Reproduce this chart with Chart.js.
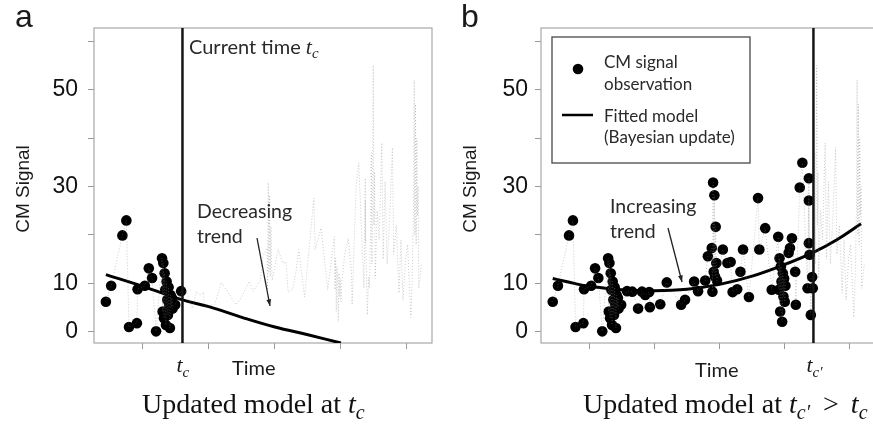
<!DOCTYPE html>
<html>
<head>
<meta charset="utf-8">
<script src="https://cdn.jsdelivr.net/npm/chart.js@4.4.0/dist/chart.umd.min.js"></script>
<style>
  html, body { margin: 0; padding: 0; background: #fff; overflow: hidden; }
  #wrap { position: relative; width: 873px; height: 426px; overflow: hidden; }
  canvas { position: absolute; top: 0; }
  #chartA { left: 0; }
  #chartB { left: 440px; }
</style>
</head>
<body>
<div id="wrap">
  <canvas id="chartA" width="440" height="426"></canvas>
  <canvas id="chartB" width="440" height="426"></canvas>
</div>
<script>
/* DATA */
// CM signal time series (observed up to t_c, the rest is what comes later)
const signalTime = [
  0.44, 0.52, 0.69, 0.75, 0.79, 0.91, 0.92, 1.03, 1.09, 1.14, 1.20,
  1.29, 1.30, 1.31, 1.32, 1.33, 1.34, 1.35, 1.36, 1.37, 1.38, 1.39, 1.40, 1.41, 1.42, 1.43, 1.44, 1.45,
  1.49, 1.58, 1.66, 1.75, 1.81, 1.86, 1.92, 1.93, 2.09, 2.19, 2.41, 2.47, 2.61, 2.67, 2.78, 2.82,
  2.88, 2.89, 2.90, 2.91, 2.92, 2.93, 2.94, 2.95, 2.96,
  3.05, 3.12, 3.17, 3.20, 3.27, 3.32, 3.36, 3.45, 3.59, 3.61, 3.70, 3.80,
  3.90, 3.91, 3.92, 3.93, 3.94, 3.95, 3.96, 3.97, 3.98, 3.99, 4.00, 4.01,
  4.06, 4.08, 4.11, 4.16, 4.17, 4.23, 4.27, 4.35, 4.37, 4.37, 4.37, 4.38, 4.40, 4.42, 4.43,
  4.45, 4.46, 4.47, 4.48, 4.49, 4.50, 4.51, 4.52, 4.55, 4.58, 4.62, 4.64, 4.67, 4.70, 4.74,
  4.78, 4.80, 4.84, 4.88, 4.91, 4.94, 4.98, 5.01, 5.03, 5.06, 5.08, 5.10, 5.11, 5.12, 5.13,
  5.14, 5.15, 5.16, 5.17, 5.18, 5.22
];
const signalValue = [
  6.2, 9.5, 19.9, 23.0, 1.0, 1.8, 8.8, 9.5, 13.1, 11.1, 0.1,
  15.2, 4.2, 14.2, 2.8, 12.1, 8.7, 1.4, 10.4, 6.6, 3.5, 9.2, 5.6, 0.8, 7.6, 5.0, 7.0, 4.8,
  5.6, 8.4, 8.3, 4.8, 8.3, 7.6, 8.2, 5.1, 5.7, 10.2, 5.6, 6.6, 10.4, 8.4, 10.6, 15.6,
  17.3, 8.3, 30.8, 12.4, 28.2, 11.4, 21.7, 14.2, 10.6,
  17.0, 14.2, 14.4, 8.2, 8.8, 12.4, 17.0, 7.2, 27.6, 17.0, 21.4, 8.7,
  19.6, 8.7, 15.2, 4.2, 13.5, 10.4, 2.1, 12.1, 7.3, 11.0, 6.2, 9.5,
  16.3, 17.3, 19.3, 12.4, 5.6, 29.8, 34.9, 9.0, 31.7, 18.3, 27.1, 15.9, 3.5, 11.3, 9.0,
  20, 37, 14, 30, 55, 22, 33, 11, 25, 19, 39, 15, 31, 14, 24,
  38, 16, 22, 8, 19, 6.6, 15, 18, 12, 3, 11, 25, 52, 20, 47,
  18, 40, 24, 30, 9, 14
];

// fitted model, panel a (at t_c) and panel b (at t_c')
const fitATime = [0.44, 1.0, 1.6, 2.0, 2.5, 3.0, 3.5, 4.0];
const fitAValue = [11.8, 9.4, 6.6, 5.2, 3.0, 1.0, -0.6, -2.3];
const fitBTime = [0.44, 0.8, 1.0, 1.5, 2.0, 2.5, 3.0, 3.5, 4.0, 4.44, 4.8, 5.17];
const fitBValue = [11.0, 9.9, 9.4, 8.7, 8.5, 8.8, 9.8, 11.5, 13.9, 16.4, 19.0, 22.3];

const tcA = 1.6;
const tcB = 4.44;

const yTickValues = [0, 10, 20, 30, 40, 50, 60];
const yTickLabels = ["0", "10", "", "30", "", "50", ""];
const xTickValues = [1, 2, 3, 4, 5];

const X_MIN = 0.26, X_MAX = 5.38;
const Y_MIN = -2.3, Y_MAX = 62.7;

/* HELPERS */
function pts(xs, ys, upTo) {
  return xs.map((x, i) => ({ x, y: ys[i] })).filter((p) => upTo == null || p.x <= upTo);
}

// draw a row of text pieces (used for the t_c subscripts)
function drawRuns(ctx, x, y, runs) {
  runs.forEach((r) => {
    ctx.font = r.font;
    ctx.fillText(r.text, x, y + (r.dy || 0));
    x += ctx.measureText(r.text).width + (r.gap || 0);
  });
  return x;
}

function drawArrow(ctx, x1, y1, x2, y2) {
  const a = Math.atan2(y2 - y1, x2 - x1);
  ctx.save();
  ctx.strokeStyle = "#222";
  ctx.fillStyle = "#222";
  ctx.lineWidth = 1.3;
  ctx.beginPath();
  ctx.moveTo(x1, y1);
  ctx.lineTo(x2, y2);
  ctx.stroke();
  ctx.beginPath();
  ctx.moveTo(x2, y2);
  ctx.lineTo(x2 - 7 * Math.cos(a - 0.35), y2 - 7 * Math.sin(a - 0.35));
  ctx.lineTo(x2 - 7 * Math.cos(a + 0.35), y2 - 7 * Math.sin(a + 0.35));
  ctx.closePath();
  ctx.fill();
  ctx.restore();
}

const SERIF = "'Liberation Serif', 'Times New Roman', serif";
const SANS = "'Liberation Sans', Arial, sans-serif";
const CAL = "Lato, 'Open Sans', sans-serif";

/* CHART BUILDER */
function makeChart(id, tc, fitT, fitV, yWidth, tickPad, decorate) {
  const frame = {
    id: "frame" + id,
    beforeDatasetsDraw(chart) {
      const { ctx, chartArea: a } = chart;
      ctx.save();
      ctx.strokeStyle = "#a8a8a8";
      ctx.lineWidth = 1.2;
      ctx.strokeRect(a.left, a.top, a.right - a.left, a.bottom - a.top);
      ctx.restore();
    },
    afterDatasetsDraw(chart) {
      const { ctx, chartArea: a } = chart;
      const px = chart.scales.x.getPixelForValue(tc);
      ctx.save();
      ctx.strokeStyle = "#151515";
      ctx.lineWidth = 2.5;
      ctx.beginPath();
      ctx.moveTo(px, a.top);
      ctx.lineTo(px, a.bottom);
      ctx.stroke();
      ctx.restore();
    },
    afterDraw(chart) {
      const ctx = chart.ctx;
      ctx.save();
      ctx.textBaseline = "alphabetic";
      ctx.fillStyle = "#1a1a1a";
      // y axis title
      ctx.save();
      ctx.translate(decorate.yTitleX, 189);
      ctx.rotate(-Math.PI / 2);
      ctx.textAlign = "center";
      ctx.font = "19px " + SANS;
      ctx.fillText("CM Signal", 0, 0);
      ctx.restore();
      decorate.draw(chart, ctx);
      ctx.restore();
    },
  };

  return new Chart(document.getElementById(id), {
    type: "scatter",
    data: {
      datasets: [
        {
          label: "signal path",
          data: pts(signalTime, signalValue),
          showLine: true,
          borderColor: "rgba(120,120,120,0.38)",
          borderWidth: 1,
          borderDash: [1, 2],
          pointRadius: 0,
        },
        {
          label: "CM signal observation",
          data: pts(signalTime, signalValue, tc),
          backgroundColor: "#000",
          borderColor: "#000",
          pointRadius: 5.3,
          borderWidth: 0,
          showLine: false,
        },
        {
          label: "Fitted model (Bayesian update)",
          data: pts(fitT, fitV),
          showLine: true,
          borderColor: "#000",
          borderWidth: 3,
          tension: 0.4,
          pointRadius: 0,
        },
      ],
    },
    options: {
      responsive: false,
      animation: false,
      devicePixelRatio: 1,
      layout: { padding: { left: 0, right: decorate.padRight, top: 28, bottom: 0 } },
      plugins: { legend: { display: false }, tooltip: { enabled: false } },
      scales: {
        x: {
          type: "linear",
          min: X_MIN,
          max: X_MAX,
          afterBuildTicks: (s) => { s.ticks = xTickValues.map((v) => ({ value: v })); },
          afterFit: (s) => { s.height = 83; },
          ticks: { callback: () => "", padding: 0 },
          grid: { drawOnChartArea: false, drawTicks: true, tickLength: 6, color: "#9a9a9a" },
          border: { display: false },
        },
        y: {
          type: "linear",
          min: Y_MIN,
          max: Y_MAX,
          afterBuildTicks: (s) => { s.ticks = yTickValues.map((v) => ({ value: v })); },
          afterFit: (s) => { s.width = yWidth; },
          ticks: {
            callback: (v) => yTickLabels[yTickValues.indexOf(v)],
            font: { family: SANS, size: 23 },
            color: "#111",
            padding: tickPad,
          },
          grid: { drawOnChartArea: false, drawTicks: true, tickLength: 6, color: "#9a9a9a" },
          border: { display: false },
        },
      },
    },
    plugins: [frame],
  });
}

/* PANEL A */
makeChart("chartA", tcA, fitATime, fitAValue, 94, 10, {
  padRight: 8,
  yTitleX: 29,
  draw(chart, ctx) {
    const px = chart.scales.x.getPixelForValue(tcA);
    ctx.font = "32px " + SANS;
    ctx.fillText("a", 15, 27);
    ctx.fillStyle = "#2a2a2a";
    drawRuns(ctx, 189, 54, [
      { text: "Current time ", font: "20px " + CAL },
      { text: "t", font: "italic 22px " + SERIF },
      { text: "c", font: "italic 15px " + SERIF, dy: 4 },
    ]);
    ctx.font = "19.5px " + CAL;
    ctx.fillText("Decreasing", 197, 218);
    ctx.fillText("trend", 197, 243);
    drawArrow(ctx, 257, 238, 270, 306);
    ctx.fillStyle = "#1a1a1a";
    drawRuns(ctx, px - 6, 372, [
      { text: "t", font: "italic 22px " + SERIF },
      { text: "c", font: "italic 15px " + SERIF, dy: 5 },
    ]);
    ctx.font = "20px " + CAL;
    ctx.fillText("Time", 232, 375);
    ctx.fillStyle = "#111";
    drawRuns(ctx, 142, 413, [
      { text: "Updated model at ", font: "28px " + SERIF },
      { text: "t", font: "italic 28px " + SERIF },
      { text: "c", font: "italic 20px " + SERIF, dy: 6 },
    ]);
  },
});

/* PANEL B */
makeChart("chartB", tcB, fitBTime, fitBValue, 101, 7, {
  padRight: 0,
  yTitleX: 36,
  draw(chart, ctx) {
    const px = chart.scales.x.getPixelForValue(tcB);
    ctx.font = "32px " + SANS;
    ctx.fillText("b", 21, 27);
    // legend
    ctx.save();
    ctx.fillStyle = "#fff";
    ctx.fillRect(112, 37, 198, 126);
    ctx.strokeStyle = "#555";
    ctx.lineWidth = 1.4;
    ctx.strokeRect(112, 37, 198, 126);
    ctx.fillStyle = "#000";
    ctx.beginPath();
    ctx.arc(138, 69, 5.3, 0, Math.PI * 2);
    ctx.fill();
    ctx.strokeStyle = "#000";
    ctx.lineWidth = 2.5;
    ctx.beginPath();
    ctx.moveTo(122, 115);
    ctx.lineTo(153, 115);
    ctx.stroke();
    ctx.fillStyle = "#2a2a2a";
    ctx.font = "17px " + CAL;
    ctx.fillText("CM signal", 164, 68);
    ctx.fillText("observation", 164, 90);
    ctx.fillText("Fitted model", 164, 122);
    ctx.fillText("(Bayesian update)", 164, 143);
    ctx.restore();

    ctx.fillStyle = "#2a2a2a";
    ctx.font = "19.5px " + CAL;
    ctx.fillText("Increasing", 170, 213);
    ctx.fillText("trend", 170, 238);
    drawArrow(ctx, 228, 228, 242, 282);
    ctx.fillStyle = "#1a1a1a";
    ctx.font = "20px " + CAL;
    ctx.fillText("Time", 255, 377);
    drawRuns(ctx, px - 7, 372, [
      { text: "t", font: "italic 22px " + SERIF },
      { text: "c\u2032", font: "italic 15px " + SERIF, dy: 5 },
    ]);
    ctx.fillStyle = "#111";
    drawRuns(ctx, 143, 413, [
      { text: "Updated model at ", font: "28px " + SERIF },
      { text: "t", font: "italic 28px " + SERIF },
      { text: "c\u2032", font: "italic 20px " + SERIF, dy: 6, gap: 6 },
      { text: " > ", font: "28px " + SERIF, gap: 5 },
      { text: "t", font: "italic 28px " + SERIF },
      { text: "c", font: "italic 20px " + SERIF, dy: 6 },
    ]);
  },
});
</script>
</body>
</html>
